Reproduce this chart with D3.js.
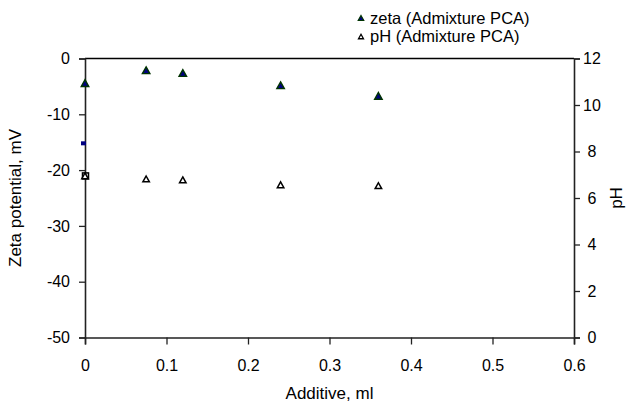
<!DOCTYPE html>
<html>
<head>
<meta charset="utf-8">
<script src="https://cdn.jsdelivr.net/npm/d3@7"></script>
<style>
  body { margin: 0; background: #fff; }
  svg text { font-family: "Liberation Sans", Arial, sans-serif; fill: #000; }
</style>
</head>
<body>
<div id="chart"></div>
<script>
// data
var additive = [0, 0.075, 0.12, 0.24, 0.36];
var zeta = [-4.4, -2.1, -2.6, -4.8, -6.7];
var pH = [6.95, 6.82, 6.78, 6.57, 6.53];
// stray marks at x = 0 (mostly hidden behind the axis)
var strayZeta = [-15.2];
var strayPH = [6.95];

var xTicks = [0, 0.1, 0.2, 0.3, 0.4, 0.5, 0.6];
var zetaTicks = [0, -10, -20, -30, -40, -50];
var pHTicks = [0, 2, 4, 6, 8, 10, 12];
var seriesNames = ["zeta (Admixture PCA)", "pH (Admixture PCA)"];

var width = 626, height = 404;
var mLeft = 85, mRight = 574, mTop = 58.5, mBottom = 337.5;

var svg = d3.select("#chart").append("svg")
  .attr("width", width)
  .attr("height", height);

var x = d3.scaleLinear().domain([0, 0.6]).range([mLeft, mRight]);
var y = d3.scaleLinear().domain([-50, 0]).range([mBottom, mTop]);
var y2 = d3.scaleLinear().domain([0, 12]).range([mBottom, mTop]);

var fs = "16px";
// plain hyphen for negatives, like the original
var plain = function(d){ return String(+(+d).toFixed(1)); };

// top border
svg.append("line")
  .attr("x1", mLeft).attr("x2", mRight)
  .attr("y1", mTop).attr("y2", mTop)
  .attr("stroke", "#000").attr("stroke-width", 1.3);

// bottom axis, minor ticks then major
var gx = svg.append("g").attr("transform", "translate(0," + mBottom + ")");
gx.call(d3.axisBottom(x).tickValues(d3.range(0, 0.6001, 0.02)).tickSize(5).tickFormat(""));
gx.call(d3.axisBottom(x).tickValues(xTicks).tickSize(7).tickPadding(15).tickFormat(plain));

// left axis
var gy = svg.append("g").attr("transform", "translate(" + mLeft + ",0)");
gy.call(d3.axisLeft(y).tickValues(d3.range(-50, 0.1, 5)).tickSize(6).tickFormat(""));
gy.call(d3.axisLeft(y).tickValues(zetaTicks).tickSize(6).tickPadding(9).tickFormat(plain));

// right axis
var gy2 = svg.append("g").attr("transform", "translate(" + mRight + ",0)");
gy2.call(d3.axisRight(y2).tickValues(d3.range(0, 12.1, 1)).tickSize(4).tickFormat(""));
gy2.call(d3.axisRight(y2).tickValues(pHTicks).tickSize(6).tickPadding(8).tickFormat(plain));

svg.selectAll(".domain").attr("stroke", "#222").attr("stroke-width", 1.6);
svg.selectAll(".tick line").attr("stroke", "#222").attr("stroke-width", 1.3);
svg.selectAll(".tick text").attr("font-size", fs).attr("font-family", "Liberation Sans, Arial, sans-serif");
gy2.selectAll(".tick text").attr("text-anchor", "middle").attr("x", 18);

// axis titles
svg.append("text")
  .attr("x", (mLeft + mRight) / 2).attr("y", 399)
  .attr("text-anchor", "middle").attr("font-size", "17px")
  .text("Additive, ml");
svg.append("text")
  .attr("transform", "translate(21," + (mTop + mBottom) / 2 + ") rotate(-90)")
  .attr("text-anchor", "middle").attr("font-size", "17px")
  .text("Zeta potential, mV");
svg.append("text")
  .attr("transform", "translate(622," + (mTop + mBottom) / 2 + ") rotate(-90)")
  .attr("text-anchor", "middle").attr("font-size", "17px")
  .text("pH");

function tri(s) {
  var h = s * 0.9;
  return "M0," + (-h / 2) + "L" + (s / 2) + "," + (h / 2) + "L" + (-s / 2) + "," + (h / 2) + "Z";
}

// stray marks
svg.selectAll(".strayz").data(strayZeta).enter().append("rect")
  .attr("x", x(0) - 4).attr("y", function(d){ return y(d) - 2; })
  .attr("width", 5).attr("height", 4).attr("fill", "#000080");
svg.selectAll(".strayp").data(strayPH).enter().append("rect")
  .attr("x", x(0) - 2.5).attr("y", function(d){ return y2(d) - 3; })
  .attr("width", 6).attr("height", 6)
  .attr("fill", "none").attr("stroke", "#000").attr("stroke-width", 1.5);

// pH series (open triangles)
svg.selectAll(".ph").data(pH).enter().append("path")
  .attr("d", tri(6.5))
  .attr("transform", function(d, i){ return "translate(" + x(additive[i]) + "," + y2(d) + ")"; })
  .attr("fill", "#fff").attr("stroke", "#000").attr("stroke-width", 1.5);

// zeta series (filled triangles)
svg.selectAll(".zeta").data(zeta).enter().append("path")
  .attr("d", tri(7.5))
  .attr("transform", function(d, i){ return "translate(" + x(additive[i]) + "," + y(d) + ")"; })
  .attr("fill", "#000080").attr("stroke", "#003300").attr("stroke-width", 1.4);

// legend
var legend = svg.append("g");
legend.append("path").attr("d", tri(5.5))
  .attr("transform", "translate(361,18)")
  .attr("fill", "#000080").attr("stroke", "#003300").attr("stroke-width", 1.2);
legend.append("path").attr("d", tri(5))
  .attr("transform", "translate(361,36.5)")
  .attr("fill", "#fff").attr("stroke", "#000").attr("stroke-width", 1.3);
legend.selectAll("text").data(seriesNames).enter().append("text")
  .attr("x", 370).attr("y", function(d, i){ return 23.5 + i * 18.5; })
  .attr("font-size", "16.5px")
  .text(function(d){ return d; });
</script>
</body>
</html>
